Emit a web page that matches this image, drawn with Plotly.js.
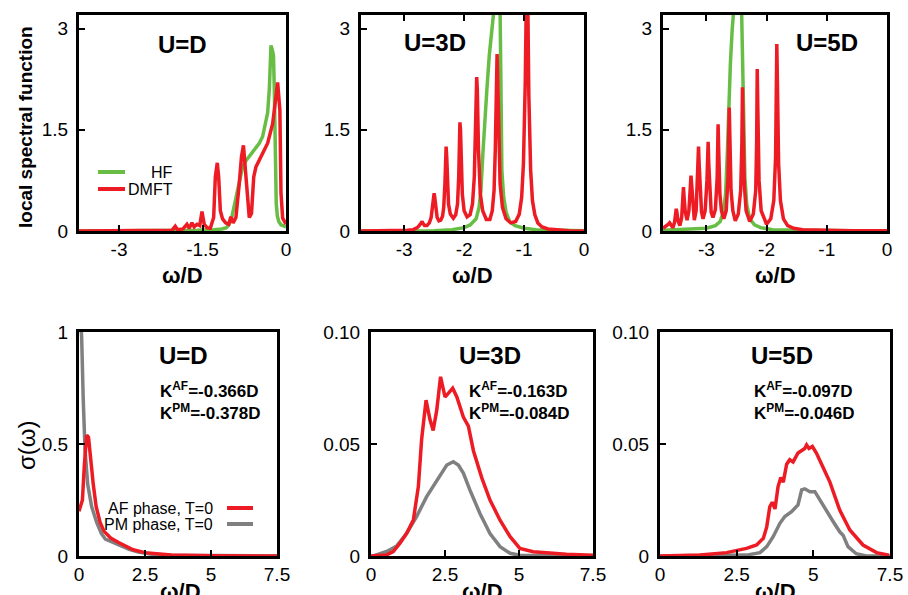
<!DOCTYPE html>
<html>
<head>
<meta charset="utf-8">
<script src="https://cdn.plot.ly/plotly-3.0.1.min.js"></script>
<style>html,body{margin:0;padding:0;background:#fff;}#chart{width:908px;height:595px;}</style>
</head>
<body>
<div id="chart"></div>
<script>
// ---------------- DATA ----------------
// Top row: local spectral function vs omega/D
const tl_hf_x = [-3.72, -2.5, -2.0, -1.6, -1.3, -1.15, -1.07, -1.02, -0.97, -0.93, -0.88, -0.83, -0.78, -0.72, -0.64, -0.56, -0.48, -0.42, -0.37, -0.33, -0.30, -0.285, -0.27, -0.245, -0.225, -0.21, -0.20, -0.19, -0.175, -0.155, -0.13, -0.09, -0.05, 0];
const tl_hf_y = [0, 0.002, 0.005, 0.01, 0.02, 0.03, 0.05, 0.1, 0.22, 0.38, 0.6, 0.8, 0.95, 1.04, 1.12, 1.2, 1.3, 1.4, 1.58, 1.75, 2.1, 2.5, 2.75, 2.68, 2.6, 2.1, 1.4, 0.8, 0.4, 0.22, 0.14, 0.09, 0.07, 0.06];
const tl_dmft_x = [-3.72, -2.3, -2.05, -1.99, -1.95, -1.85, -1.78, -1.74, -1.69, -1.65, -1.6, -1.55, -1.51, -1.47, -1.42, -1.36, -1.30, -1.27, -1.235, -1.21, -1.18, -1.14, -1.085, -1.03, -0.99, -0.95, -0.90, -0.84, -0.80, -0.765, -0.72, -0.69, -0.66, -0.62, -0.58, -0.54, -0.45, -0.33, -0.24, -0.19, -0.15, -0.11, -0.09, -0.06, -0.02, 0];
const tl_dmft_y = [0, 0, 0.01, 0.07, 0.02, 0.03, 0.10, 0.04, 0.12, 0.06, 0.1, 0.08, 0.29, 0.1, 0.05, 0.04, 0.2, 0.8, 1.01, 0.8, 0.3, 0.18, 0.12, 0.1, 0.21, 0.12, 0.2, 0.70, 1.10, 1.27, 0.8, 0.36, 0.2, 0.26, 0.8, 0.95, 1.10, 1.30, 1.59, 1.93, 2.2, 1.79, 0.56, 0.19, 0.12, 0.1];

const tm_hf_x = [-3.72, -2.5, -2.2, -2.0, -1.9, -1.8, -1.75, -1.72, -1.69, -1.66, -1.62, -1.58, -1.54, -1.50, -1.46, -1.42, -1.40, -1.39, -1.37, -1.34, -1.30, -1.24, -1.15, -1.0, -0.8, 0];
const tm_hf_y = [0, 0.005, 0.02, 0.05, 0.09, 0.18, 0.35, 0.6, 1.1, 1.6, 2.1, 2.6, 2.9, 3.3, 4.0, 4.0, 3.3, 1.9, 0.9, 0.5, 0.28, 0.14, 0.08, 0.04, 0.02, 0.005];
const tm_dmft_x = [-3.72, -3.2, -2.95, -2.85, -2.78, -2.74, -2.71, -2.70, -2.69, -2.66, -2.62, -2.58, -2.55, -2.53, -2.51, -2.50, -2.49, -2.47, -2.45, -2.42, -2.39, -2.36, -2.34, -2.32, -2.31, -2.30, -2.29, -2.28, -2.26, -2.23, -2.18, -2.14, -2.11, -2.09, -2.08, -2.07, -2.06, -2.05, -2.03, -2.00, -1.95, -1.90, -1.86, -1.83, -1.81, -1.80, -1.79, -1.78, -1.76, -1.73, -1.69, -1.63, -1.57, -1.53, -1.50, -1.48, -1.46, -1.45, -1.44, -1.42, -1.40, -1.36, -1.30, -1.22, -1.14, -1.08, -1.04, -1.01, -0.98, -0.96, -0.95, -0.94, -0.92, -0.89, -0.86, -0.82, -0.77, -0.70, -0.6, -0.45, -0.25, 0];
const tm_dmft_y = [0, 0.003, 0.01, 0.02, 0.05, 0.09, 0.13, 0.14, 0.12, 0.08, 0.08, 0.12, 0.2, 0.32, 0.5, 0.56, 0.5, 0.3, 0.2, 0.15, 0.16, 0.22, 0.35, 0.7, 1.05, 1.25, 1.1, 0.75, 0.4, 0.25, 0.19, 0.24, 0.4, 0.8, 1.35, 1.61, 1.5, 1.1, 0.55, 0.3, 0.21, 0.24, 0.4, 0.8, 1.5, 2.1, 2.28, 2.1, 1.2, 0.55, 0.3, 0.17, 0.17, 0.3, 0.6, 1.2, 2.2, 2.62, 2.3, 1.3, 0.7, 0.35, 0.18, 0.12, 0.14, 0.25, 0.5, 1.0, 2.2, 3.6, 4.2, 3.6, 2.0, 0.9, 0.45, 0.24, 0.12, 0.06, 0.03, 0.015, 0.005, 0];

const tr_hf_x = [-3.72, -3.3, -3.0, -2.85, -2.77, -2.72, -2.68, -2.65, -2.63, -2.60, -2.57, -2.54, -2.48, -2.42, -2.40, -2.38, -2.36, -2.33, -2.28, -2.2, -2.1, -1.9, -1.5, 0];
const tr_hf_y = [0.01, 0.02, 0.04, 0.08, 0.14, 0.28, 0.55, 1.2, 1.84, 2.5, 3.0, 3.5, 4.0, 3.5, 2.6, 1.6, 0.8, 0.4, 0.18, 0.09, 0.05, 0.02, 0.01, 0];
const tr_dmft_x = [-3.72, -3.66, -3.63, -3.61, -3.59, -3.555, -3.53, -3.51, -3.50, -3.49, -3.47, -3.44, -3.41, -3.39, -3.38, -3.37, -3.35, -3.32, -3.29, -3.27, -3.255, -3.245, -3.225, -3.2, -3.17, -3.145, -3.13, -3.12, -3.10, -3.08, -3.055, -3.02, -2.99, -2.97, -2.96, -2.94, -2.92, -2.89, -2.85, -2.82, -2.805, -2.795, -2.775, -2.75, -2.71, -2.67, -2.64, -2.62, -2.61, -2.59, -2.56, -2.52, -2.47, -2.43, -2.41, -2.40, -2.39, -2.37, -2.34, -2.28, -2.22, -2.18, -2.165, -2.155, -2.145, -2.125, -2.09, -2.0, -1.93, -1.88, -1.85, -1.835, -1.83, -1.82, -1.80, -1.77, -1.72, -1.65, -1.55, -1.4, -1.1, -0.6, 0];
const tr_dmft_y = [0.04, 0.07, 0.1, 0.12, 0.09, 0.05, 0.12, 0.28, 0.33, 0.28, 0.15, 0.08, 0.2, 0.5, 0.65, 0.5, 0.28, 0.16, 0.3, 0.6, 0.82, 0.7, 0.35, 0.16, 0.3, 0.75, 1.25, 1.0, 0.5, 0.28, 0.18, 0.3, 0.75, 1.32, 1.0, 0.5, 0.28, 0.2, 0.32, 0.8, 1.58, 1.2, 0.55, 0.3, 0.18, 0.3, 0.8, 1.83, 1.4, 0.6, 0.3, 0.15, 0.25, 0.6, 1.3, 2.13, 1.6, 0.7, 0.3, 0.14, 0.25, 0.6, 1.3, 2.40, 1.8, 0.75, 0.3, 0.1, 0.18, 0.45, 1.1, 2.2, 2.77, 2.2, 1.0, 0.45, 0.18, 0.08, 0.04, 0.02, 0.01, 0.005, 0.002];

// Bottom row: optical conductivity sigma(omega)
const bl_af_x = [0.0, 0.05, 0.13, 0.2, 0.29, 0.36, 0.45, 0.54, 0.65, 0.8, 0.95, 1.2, 1.5, 1.75, 2.05, 2.5, 3.0, 3.5, 5.0, 7.5];
const bl_af_y = [0.2, 0.22, 0.25, 0.4, 0.54, 0.53, 0.42, 0.32, 0.22, 0.15, 0.11, 0.08, 0.06, 0.045, 0.028, 0.015, 0.008, 0.004, 0.001, 0];
const bl_pm_x = [0.03, 0.1, 0.16, 0.23, 0.33, 0.48, 0.67, 0.85, 1.0, 1.3, 1.6, 1.9, 2.25, 2.75, 3.5, 5.0, 7.5];
const bl_pm_y = [1.1, 0.98, 0.7, 0.47, 0.32, 0.22, 0.15, 0.10, 0.075, 0.06, 0.045, 0.03, 0.018, 0.008, 0.003, 0.001, 0];

const bm_af_x = [0.0, 0.53, 0.75, 0.98, 1.2, 1.43, 1.6, 1.71, 1.86, 1.99, 2.1, 2.22, 2.35, 2.5, 2.61, 2.76, 2.9, 3.12, 3.29, 3.46, 3.74, 4.02, 4.36, 4.7, 5.03, 5.48, 6.6, 7.5];
const bm_af_y = [0.0, 0.0005, 0.002, 0.0057, 0.010, 0.016, 0.031, 0.052, 0.0696, 0.061, 0.056, 0.065, 0.080, 0.071, 0.0726, 0.0749, 0.071, 0.062, 0.058, 0.047, 0.035, 0.025, 0.016, 0.0086, 0.0034, 0.0019, 0.0008, 0.0003];
const bm_pm_x = [0.0, 0.08, 0.53, 0.87, 1.2, 1.54, 1.88, 2.1, 2.33, 2.56, 2.78, 2.95, 3.12, 3.34, 3.68, 4.02, 4.36, 4.7, 5.03, 7.5];
const bm_pm_y = [0.0, 0.0, 0.002, 0.0045, 0.010, 0.0176, 0.0265, 0.031, 0.036, 0.0406, 0.0421, 0.0406, 0.037, 0.0295, 0.019, 0.010, 0.0042, 0.0012, 0.0003, 0];

const br_af_x = [0.0, 1.3, 2.17, 2.82, 3.15, 3.37, 3.48, 3.58, 3.66, 3.75, 3.85, 3.94, 4.02, 4.13, 4.23, 4.34, 4.5, 4.72, 4.78, 4.86, 4.97, 5.1, 5.27, 5.54, 5.86, 6.19, 6.62, 7.06, 7.47];
const br_af_y = [0.0, 0.0004, 0.0015, 0.0034, 0.0049, 0.0079, 0.013, 0.022, 0.024, 0.021, 0.031, 0.035, 0.033, 0.041, 0.043, 0.042, 0.046, 0.048, 0.0496, 0.048, 0.0489, 0.046, 0.041, 0.033, 0.0205, 0.0116, 0.0049, 0.0015, 0.0004];
const br_pm_x = [0.0, 2.82, 3.26, 3.48, 3.69, 3.91, 4.07, 4.29, 4.5, 4.62, 4.72, 4.89, 5.05, 5.21, 5.43, 5.65, 5.86, 5.97, 6.13, 6.4, 6.73, 7.5];
const br_pm_y = [0.0, 0.0004, 0.0015, 0.0042, 0.0086, 0.0146, 0.0176, 0.0198, 0.0228, 0.0295, 0.030, 0.0287, 0.0287, 0.025, 0.0205, 0.0153, 0.0108, 0.0093, 0.0042, 0.001, 0, 0];

// Tick labels and texts
const topXTicksA = [-3, -1.5, 0];
const topXTextA = ['-3', '-1.5', '0'];
const topXTicksB = [-3, -2, -1, 0];
const topXTextB = ['-3', '-2', '-1', '0'];
const topYTicks = [0, 1.5, 3];
const topYText = ['0', '1.5', '3'];
const botXTicks = [0, 2.5, 5, 7.5];
const botXText = ['0', '2.5', '5', '7.5'];
const blYTicks = [0, 0.5, 1];
const blYText = ['0', '0.5', '1'];
const bYTicks = [0, 0.05, 0.1];
const bYText = ['0', '0.05', '0.10'];
const panelLabels = ['U=D', 'U=3D', 'U=5D'];
const kAF = ['-0.366D', '-0.163D', '-0.097D'];
const kPM = ['-0.378D', '-0.084D', '-0.046D'];

// ---------------- STYLE / LAYOUT ----------------
const W = 908, H = 595;
const FONT = 'Liberation Sans, Arial, Helvetica, sans-serif';
const GREEN = '#68bd45', RED = '#ed1c24', GREY = '#808080';
const px = v => v / W;
const py = v => 1 - v / H;

function axis(domain, range, tickvals, ticktext, anchor, extra) {
  return Object.assign({
    domain: domain, range: range, anchor: anchor,
    tickvals: tickvals, ticktext: ticktext,
    showline: true, linecolor: 'black', linewidth: 3, mirror: true,
    ticks: 'inside', ticklen: 6, tickwidth: 2, tickcolor: 'black',
    showgrid: false, zeroline: false, fixedrange: true,
    tickfont: {family: FONT, size: 19, color: 'black'}
  }, extra || {});
}

const topY = [py(231), py(15)];
const botY = [py(556), py(332)];
const dTL = [px(79), px(286)], dTM = [px(361), px(584)], dTR = [px(663), px(887)];
const dBL = [px(79), px(277)], dBM = [px(371), px(593)], dBR = [px(660), px(890)];
const topXR = [-3.72, 0];
const XS = {ticklabelstandoff: -1};
const YS = {ticklabelstandoff: 4};

const layout = {
  width: W, height: H,
  margin: {l: 0, r: 0, t: 0, b: 0},
  paper_bgcolor: 'white', plot_bgcolor: 'white',
  showlegend: false,
  font: {family: FONT, color: 'black'},
  xaxis:  axis(dTL, topXR, topXTicksA, topXTextA, 'y', XS),
  yaxis:  axis(topY, [0, 3.2], topYTicks, topYText, 'x', YS),
  xaxis2: axis(dTM, topXR, topXTicksB, topXTextB, 'y2', Object.assign({mirror: 'ticks'}, XS)),
  yaxis2: axis(topY, [0, 3.2], topYTicks, topYText, 'x2', YS),
  xaxis3: axis(dTR, topXR, topXTicksB, topXTextB, 'y3', Object.assign({mirror: 'ticks'}, XS)),
  yaxis3: axis(topY, [0, 3.2], topYTicks, topYText, 'x3', YS),
  xaxis4: axis(dBL, [0, 7.5], botXTicks, botXText, 'y4', XS),
  yaxis4: axis(botY, [0, 1], blYTicks, blYText, 'x4', YS),
  xaxis5: axis(dBM, [0, 7.5], botXTicks, botXText, 'y5', XS),
  yaxis5: axis(botY, [0, 0.1], bYTicks, bYText, 'x5', YS),
  xaxis6: axis(dBR, [0, 7.5], botXTicks, botXText, 'y6', XS),
  yaxis6: axis(botY, [0, 0.1], bYTicks, bYText, 'x6', YS),
  annotations: [],
  shapes: []
};

function ann(x, y, text, size, opts) {
  layout.annotations.push(Object.assign({
    xref: 'paper', yref: 'paper', x: px(x), y: py(y), text: text,
    showarrow: false, xanchor: 'center', yanchor: 'middle',
    font: {family: FONT, size: size, color: 'black'}
  }, opts || {}));
}
function seg(x0, x1, y, color) {
  layout.shapes.push({type: 'line', xref: 'paper', yref: 'paper',
    x0: px(x0), x1: px(x1), y0: py(y), y1: py(y), line: {color: color, width: 4}});
}

// panel labels
ann(182, 45, '<b>' + panelLabels[0] + '</b>', 24);
ann(435, 43, '<b>' + panelLabels[1] + '</b>', 24);
ann(827, 43, '<b>' + panelLabels[2] + '</b>', 24);
ann(183, 355, '<b>' + panelLabels[0] + '</b>', 24);
ann(490, 355, '<b>' + panelLabels[1] + '</b>', 24);
ann(782, 355, '<b>' + panelLabels[2] + '</b>', 24);

// K annotations
const kx = [158, 467, 752];
for (let i = 0; i < 3; i++) {
  ann(kx[i], 390, '<b>K<sup>AF</sup>=' + kAF[i] + '</b>', 17, {xanchor: 'left'});
  ann(kx[i], 412, '<b>K<sup>PM</sup>=' + kPM[i] + '</b>', 17, {xanchor: 'left'});
}

// axis titles
[182, 472, 775].forEach(x => ann(x, 275, '<b>ω/D</b>', 22));
[180, 482, 775].forEach(x => ann(x, 591, '<b>ω/D</b>', 22));
ann(25, 127, '<b>local spectral function</b>', 19, {textangle: -90});
ann(26, 445, 'σ(ω)', 24, {textangle: -90});

// legends
seg(98, 125, 172, GREEN); seg(98, 125, 189, RED);
ann(175, 172, 'HF', 16, {xanchor: 'right'});
ann(175, 189, 'DMFT', 16, {xanchor: 'right'});
seg(227, 253, 508, RED); seg(227, 253, 524, GREY);
ann(215, 508, 'AF phase, T=0', 16, {xanchor: 'right'});
ann(215, 524, 'PM phase, T=0', 16, {xanchor: 'right'});

function line(x, y, color, xa, ya) {
  return {type: 'scatter', mode: 'lines', x: x, y: y, xaxis: xa, yaxis: ya,
    line: {color: color, width: 3.5}, hoverinfo: 'skip'};
}

const data = [
  line(tl_hf_x, tl_hf_y, GREEN, 'x', 'y'),
  line(tl_dmft_x, tl_dmft_y, RED, 'x', 'y'),
  line(tm_hf_x, tm_hf_y, GREEN, 'x2', 'y2'),
  line(tm_dmft_x, tm_dmft_y, RED, 'x2', 'y2'),
  line(tr_hf_x, tr_hf_y, GREEN, 'x3', 'y3'),
  line(tr_dmft_x, tr_dmft_y, RED, 'x3', 'y3'),
  line(bl_pm_x, bl_pm_y, GREY, 'x4', 'y4'),
  line(bl_af_x, bl_af_y, RED, 'x4', 'y4'),
  line(bm_pm_x, bm_pm_y, GREY, 'x5', 'y5'),
  line(bm_af_x, bm_af_y, RED, 'x5', 'y5'),
  line(br_pm_x, br_pm_y, GREY, 'x6', 'y6'),
  line(br_af_x, br_af_y, RED, 'x6', 'y6')
];

Plotly.newPlot('chart', data, layout, {displayModeBar: false, staticPlot: true});
</script>
</body>
</html>
